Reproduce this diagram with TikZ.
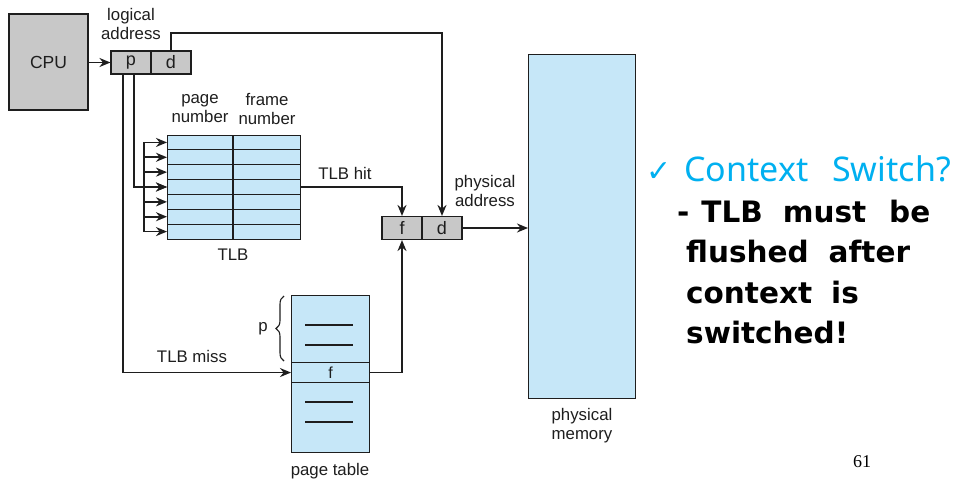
\documentclass[tikz,border=0pt]{standalone}
\usepackage{fontspec}
\setmainfont{Liberation Sans}
\newfontfamily\rfont{Noto Sans}
\newfontfamily\rbfont{DejaVu Sans}
\newfontfamily\symfont{DejaVu Sans}
\newfontfamily\numfont{Liberation Serif}
\usetikzlibrary{arrows.meta,decorations.pathreplacing}
\definecolor{boxgray}{HTML}{C8C8C8}
\definecolor{memblue}{HTML}{C6E7F8}
\definecolor{linec}{HTML}{1E1E1E}
\definecolor{cyantext}{HTML}{00B0F0}
\begin{document}
\begin{tikzpicture}[x=1pt,y=-1pt,
  lbl/.style={font=\fontsize{16.8}{19}\selectfont, text=linec, align=center, inner sep=0pt},
  reg/.style={draw=linec, fill=boxgray, line width=1.1pt, minimum width=40pt, minimum height=23pt, inner sep=0pt, font=\fontsize{18}{20}\selectfont, text=linec},
  conn/.style={draw=linec, line width=1.7pt},
  arr/.style={conn, -{Stealth[length=11pt,width=9pt]}},
  tab/.style={draw=linec, fill=memblue, line width=1.1pt, inner sep=0pt},
  rbig/.style={font=\rfont\fontsize{34}{38}\selectfont, text=cyantext, anchor=base west, inner sep=0pt},
  rbold/.style={font=\rbfont\bfseries\fontsize{29.5}{32}\selectfont, text=black, anchor=base west, inner sep=0pt}
]
\useasboundingbox (0,0) rectangle (954,483);
\fill[white] (0,0) rectangle (954,483);

% CPU
\node[draw=linec, fill=boxgray, line width=1.1pt, minimum width=79pt, minimum height=96pt, inner sep=0pt, font=\fontsize{17.5}{19}\selectfont, text=linec] (cpu) at (48.5,62) {CPU};
\node[lbl] (lalbl) at (131,23.5) {logical\\address};

% logical address register
\node[reg] (lp) at (131,62.5) {p};
\node[reg] (ld) at (171,62.5) {d};

% physical address register
\node[reg] (pf) at (402,228) {f};
\node[reg] (pd) at (442,228) {d};
\node[lbl] (palbl) at (485,191) {physical\\address};

% TLB
\node[tab, minimum width=133pt, minimum height=104pt, anchor=north west] (tlb) at (167,135) {};
\foreach \k in {1,...,6} {
  \draw[draw=linec, line width=1.1pt] (167,{135+\k*104/7}) -- (300,{135+\k*104/7});
}
\draw[draw=linec, line width=1.1pt] (233,135) -- (233,239);
\node[lbl] (pnlbl) at (200,109) {page\\number};
\node[lbl] (fnlbl) at (267,109) {frame\\number};
\node[lbl] (tlblbl) at (233,255) {TLB};

% row coordinates
\foreach \k in {1,...,7} {
  \coordinate (r\k) at (167,{135+(\k-0.5)*104/7});
  \coordinate (s\k) at (144,{135+(\k-0.5)*104/7});
}
\draw[conn] (s1) -- (s7);
\foreach \k in {1,...,7} {
  \draw[arr] (s\k) -- (r\k);
}

% page table
\node[tab, minimum width=78pt, minimum height=157pt, anchor=north west] (pt) at (291,295) {};
\node[tab, minimum width=78pt, minimum height=20pt, anchor=north west, font=\fontsize{16}{18}\selectfont, text=linec] (ptf) at (291,362) {f};
\foreach \y in {325,345,402,422} {
  \draw[draw=linec, line width=1.1pt] (305,\y) -- (353,\y);
}
\node[lbl] (ptlbl) at (330,471) {page table};
\draw[draw=linec, line width=1.1pt, decorate, decoration={brace, amplitude=8pt}] (284,361) -- (284,296);
\node[lbl] (plbl) at (263,329) {p};

% physical memory
\node[tab, minimum width=107pt, minimum height=344pt, anchor=north west] (mem) at (528,54) {};
\node[lbl] (pmlbl) at (582,426) {physical\\memory};

% connectors
\draw[arr] (cpu.east |- lp) -- (lp.west);
\coordinate (dtop) at (171,33);
\draw[arr] (ld.north) -- (dtop) -| (pd.north);
\draw[arr] ([xshift=3pt]lp.south) |- (r4);
\draw[arr] ([xshift=-8pt]lp.south) |- (ptf.west);
\node[lbl] (misslbl) at (192,356) {TLB miss};
\draw[arr] (tlb.east |- r4) -| (pf.north);
\node[lbl] (hitlbl) at (345,173) {TLB hit};
\draw[arr] (ptf.east) -| (pf.south);
\draw[arr] (pd.east) -- (pd.east -| mem.west);

% right text
\node[font=\symfont\fontsize{30}{34}\selectfont, text=cyantext, anchor=base west, inner sep=0pt] (chk) at (646,181) {✓};
\node[rbig] (l1) at (684,181) {Context\hspace{24pt}Switch?};
\node[rbold] (l2) at (677,222) {-\hspace{12pt}TLB\hspace{20pt}must\hspace{23pt}be};
\node[rbold] (l3) at (686,262) {flushed\hspace{20pt}after};
\node[rbold] (l4) at (686,303) {context\hspace{19pt}is};
\node[rbold] (l5) at (686,343) {switched!};

\node[font=\numfont\fontsize{18}{20}\selectfont, text=black, inner sep=0pt] (num) at (862,462) {61};
\end{tikzpicture}
\end{document}
